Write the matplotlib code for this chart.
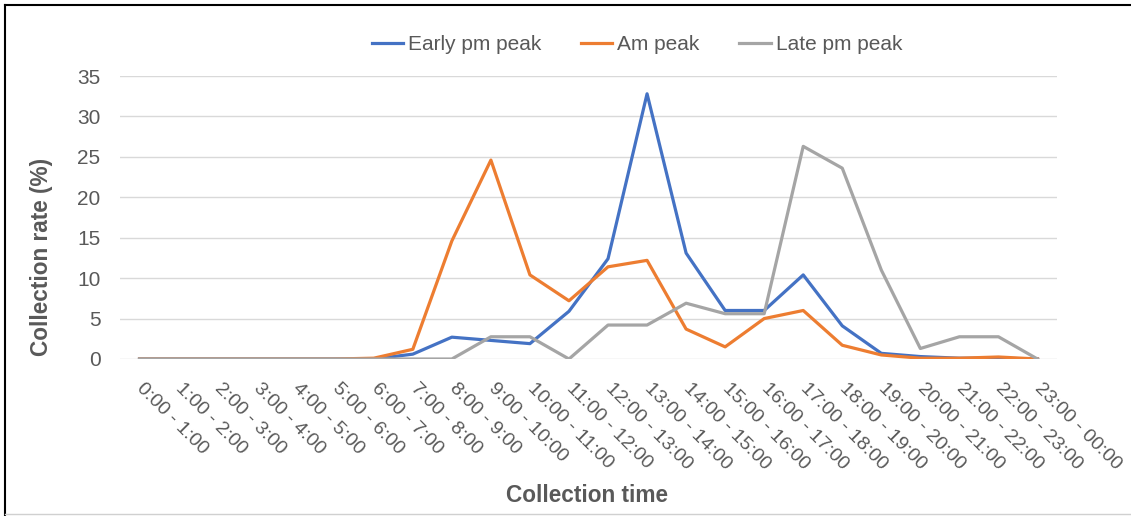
import matplotlib.pyplot as plt
import matplotlib.transforms as mtransforms
from matplotlib.lines import Line2D

# collection rate by hour of day for each peak group
hours = ['0:00 - 1:00', '1:00 - 2:00', '2:00 - 3:00', '3:00 - 4:00', '4:00 - 5:00',
         '5:00 - 6:00', '6:00 - 7:00', '7:00 - 8:00', '8:00 - 9:00', '9:00 - 10:00',
         '10:00 - 11:00', '11:00 - 12:00', '12:00 - 13:00', '13:00 - 14:00',
         '14:00 - 15:00', '15:00 - 16:00', '16:00 - 17:00', '17:00 - 18:00',
         '18:00 - 19:00', '19:00 - 20:00', '20:00 - 21:00', '21:00 - 22:00',
         '22:00 - 23:00', '23:00 - 00:00']
early_pm = [0, 0, 0, 0, 0, 0, 0, 0.6, 2.7, 2.3, 1.9, 5.9, 12.4, 32.8,
            13.1, 6.0, 6.0, 10.4, 4.1, 0.7, 0.3, 0.1, 0.1, 0]
am_peak = [0, 0, 0, 0, 0, 0, 0.1, 1.2, 14.6, 24.6, 10.4, 7.2, 11.4, 12.2,
           3.7, 1.5, 5.0, 6.0, 1.7, 0.5, 0.1, 0.1, 0.25, 0]
late_pm = [0, 0, 0, 0, 0, 0, 0, 0, 0, 2.75, 2.75, 0, 4.2, 4.2,
           6.9, 5.6, 5.6, 26.3, 23.6, 11.0, 1.3, 2.75, 2.75, 0]

txt = '#595959'
plt.rcParams['font.family'] = ['Liberation Sans', 'DejaVu Sans']

fig = plt.figure(figsize=(11.31, 5.16), dpi=100)
ax = fig.add_axes([120/1131, 1-359/516, 937/1131, 283/516])

x = list(range(len(hours)))
ax.plot(x, early_pm, color='#4472C4', lw=2.3, label='Early pm peak', zorder=3)
ax.plot(x, am_peak, color='#ED7D31', lw=2.3, label='Am peak', zorder=3)
ax.plot(x, late_pm, color='#A5A5A5', lw=2.3, label='Late pm peak', zorder=3)

ax.set_xlim(-0.5, len(hours) - 0.5)
ax.set_ylim(0, 35)
ax.set_yticks(range(0, 36, 5))
ax.grid(axis='y', color='#D9D9D9', lw=1)
ax.set_axisbelow(True)
for s in ax.spines.values():
    s.set_visible(False)

ax.set_xticks(x)
ax.set_xticklabels(hours, rotation=-45, ha='left', va='top', rotation_mode='anchor')
ax.tick_params(axis='x', length=0, pad=15, labelsize=14, labelcolor=txt)
ax.tick_params(axis='y', length=0, pad=14, labelsize=15, labelcolor=txt)
shift = mtransforms.ScaledTranslation(6/100, 0, fig.dpi_scale_trans)
for lab in ax.get_xticklabels():
    lab.set_transform(lab.get_transform() + shift)

fig.text(42/1131, 1-257/516, 'Collection rate (%)', rotation=90, ha='center', va='center',
         fontsize=16.3, fontweight='bold', color=txt)
fig.text(587/1131, 1-496/516, 'Collection time', ha='center', va='center',
         fontsize=16.3, fontweight='bold', color=txt)

fig.legend(loc='center', bbox_to_anchor=(637/1131, 1-45/516), ncol=3, frameon=False,
           fontsize=15, handlelength=1.5, handletextpad=0.25, columnspacing=1.9,
           labelcolor=txt)

# frame around the picture
fig.add_artist(Line2D([5/1131, 5/1131], [0, 1-5/516], color='black', lw=1.5))
fig.add_artist(Line2D([5/1131, 1], [1-5/516, 1-5/516], color='black', lw=1.5))
fig.add_artist(Line2D([5/1131, 1], [1-514/516, 1-514/516], color='#D0D0D0', lw=1))

fig.savefig('out.png', dpi=100)
